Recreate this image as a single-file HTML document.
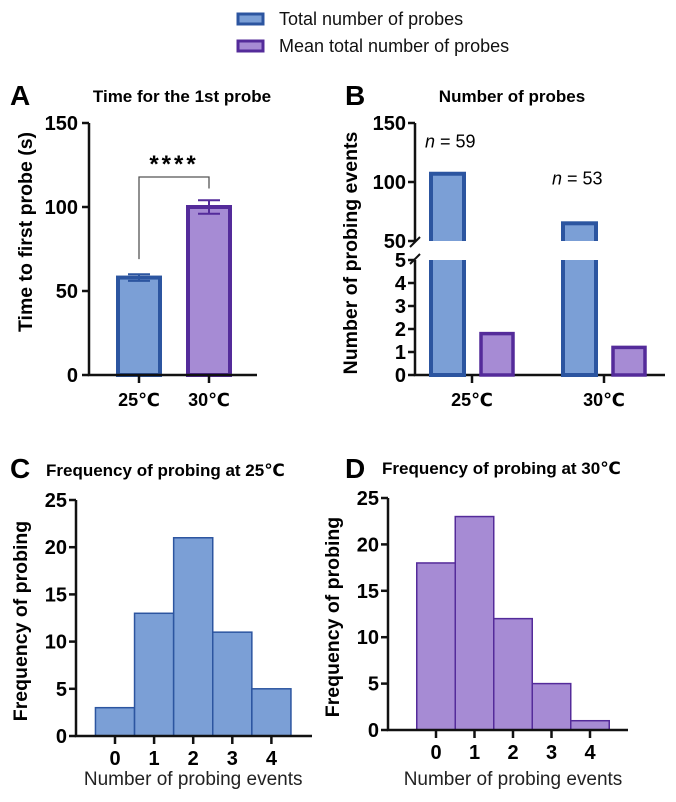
<!DOCTYPE html>
<html><head><meta charset="utf-8"><style>
body{margin:0;background:#fff}
svg{display:block;font-family:"Liberation Sans","DejaVu Sans",sans-serif}
</style></head><body>
<svg id="fig" width="676" height="802" viewBox="0 0 676 802">
<g>
<rect x="238" y="14" width="25" height="10" fill="#7b9fd6" stroke="#2c55a0" stroke-width="3"/>
<text x="279" y="25" font-size="18" fill="#111">Total number of probes</text>
<rect x="238" y="41" width="25" height="10" fill="#a68bd4" stroke="#542b9a" stroke-width="3"/>
<text x="279" y="52" font-size="18" fill="#111">Mean total number of probes</text>
</g>
<text x="10" y="105" font-size="28" font-weight="bold">A</text>
<text x="345" y="105" font-size="28" font-weight="bold">B</text>
<text x="10" y="478" font-size="28" font-weight="bold">C</text>
<text x="345" y="478" font-size="28" font-weight="bold">D</text>
<text x="182" y="102" font-size="17" font-weight="bold" text-anchor="middle">Time for the 1st probe</text>
<text x="512" y="102" font-size="17" font-weight="bold" text-anchor="middle">Number of probes</text>
<text x="46" y="476" font-size="17" font-weight="bold">Frequency of probing at 25℃</text>
<text x="382" y="474" font-size="17" font-weight="bold">Frequency of probing at 30℃</text>
<g id="pa"></g><g id="pb"></g><g id="pc"></g><g id="pd"></g>
</svg>
<script>
// Panel A data
const aCats=["25℃","30℃"];
const aMeans=[58,100];
const aErr=[2,4];
const aTicks=[0,50,100,150];
// Panel B data
const bCats=["25℃","30℃"];
const bTotal=[107,65];
const bMean=[1.8,1.2];
const bN=["59","53"];
const bLowTicks=[0,1,2,3,4,5];
const bHighTicks=[50,100,150];
// Panel C/D data
const histCats=[0,1,2,3,4];
const cFreq=[3,13,21,11,5];
const dFreq=[18,23,12,5,1];
const histTicks=[0,5,10,15,20,25];

const NS="http://www.w3.org/2000/svg";
function mk(parent,tag,attrs,txt){const e=document.createElementNS(NS,tag);for(const k in attrs)e.setAttribute(k,attrs[k]);if(txt!==undefined)e.textContent=txt;parent.appendChild(e);return e;}
const BLUE="#7b9fd6",BLUED="#2c55a0",PUR="#a68bd4",PURD="#542b9a";

// ---- Panel A
(function(){
 const g=document.getElementById('pa');
 const x0=89,y0=375,ppu=252/150;
 const y=v=>y0-v*ppu;
 const cx=[139,209];
 aTicks.forEach(t=>{
  const l=mk(g,'line',{x1:x0-7,x2:x0,y1:y(t),y2:y(t),stroke:'#111','stroke-width':2.5});
  
  const tx=mk(g,'text',{x:x0-11,y:y(t)+7,'font-size':20,'font-weight':'bold','text-anchor':'end'},t);
  
 });
 aMeans.forEach((v,i)=>{
  const r=mk(g,'rect',{x:cx[i]-21,y:y(v),width:42,height:y0-y(v),fill:i?PUR:BLUE,stroke:i?PURD:BLUED,'stroke-width':4});
  
  const eb=mk(g,'path',{d:`M${cx[i]-11},${y(v+aErr[i])}H${cx[i]+11}M${cx[i]},${y(v+aErr[i])}V${y(v-aErr[i])}M${cx[i]-11},${y(v-aErr[i])}H${cx[i]+11}`,stroke:i?PURD:BLUED,'stroke-width':2,fill:'none'});
  
  const tk=mk(g,'line',{x1:cx[i],x2:cx[i],y1:y0,y2:y0+8,stroke:'#111','stroke-width':2.5});
  
  const lb=mk(g,'text',{x:cx[i],y:y0+31,'font-size':18,'font-weight':'bold','text-anchor':'middle'},aCats[i]);
  
 });
 const ax=mk(g,'path',{d:`M${x0},${y(150)}V${y0}H${x0+168}`,stroke:'#111','stroke-width':2.5,fill:'none'});
 
 const br=mk(g,'path',{d:`M${cx[0]},${y(aMeans[0]+11)}V177H${cx[1]}V${y(aMeans[1]+11)}`,stroke:'#555','stroke-width':1.3,fill:'none'});
 
 const st=mk(g,'text',{x:(cx[0]+cx[1])/2,y:172,'font-size':24,'font-weight':'bold','text-anchor':'middle','letter-spacing':'3'},'****');
 
 const yt=mk(g,'text',{transform:`translate(32,232) rotate(-90)`,'font-size':19.5,'font-weight':'bold','text-anchor':'middle'},'Time to first probe (s)');
 
})();

// ---- Panel B
(function(){
 const g=document.getElementById('pb');
 const x0=415,y0=375,lowTop=260,hiBot=241,hiTop=123;
 const y=v=>v<=5?y0-v*(y0-lowTop)/5:hiBot-(v-50)*(hiBot-hiTop)/100;
 bLowTicks.forEach(t=>{
  const l=mk(g,'line',{x1:x0-7,x2:x0,y1:y(t),y2:y(t),stroke:'#111','stroke-width':2.5});
  
  const tx=mk(g,'text',{x:x0-9,y:y(t)+7,'font-size':20,'font-weight':'bold','text-anchor':'end'},t);
  
 });
 bHighTicks.forEach(t=>{
  const l=mk(g,'line',{x1:x0-7,x2:x0,y1:y(t),y2:y(t),stroke:'#111','stroke-width':2.5});
  
  const tx=mk(g,'text',{x:x0-9,y:y(t)+7,'font-size':20,'font-weight':'bold','text-anchor':'end'},t);
  
 });
 const ax=mk(g,'path',{d:`M${x0},${hiTop}V${hiBot}M${x0},${lowTop}V${y0}H${x0+250}`,stroke:'#111','stroke-width':2.5,fill:'none'});
 
 const bk=mk(g,'path',{d:`M${x0-5},${hiBot+6}L${x0+5},${hiBot-4}M${x0-5},${lowTop+4}L${x0+5},${lowTop-6}`,stroke:'#111','stroke-width':2,fill:'none'});
 
 const cx=[472,604];
 bTotal.forEach((v,i)=>{
  const x=cx[i]-41,w=33;
  const r=mk(g,'rect',{x:x,y:y(v),width:w,height:y0-y(v),fill:BLUE,stroke:BLUED,'stroke-width':4});
  
  const gap=mk(g,'rect',{x:x-3,y:hiBot,width:w+6,height:lowTop-hiBot,fill:'#fff'});
  
  const m=bMean[i];
  const r2=mk(g,'rect',{x:cx[i]+9,y:y(m),width:32,height:y0-y(m),fill:PUR,stroke:PURD,'stroke-width':3.5});
  
  const tk=mk(g,'line',{x1:cx[i],x2:cx[i],y1:y0,y2:y0+8,stroke:'#111','stroke-width':2.5});
  
  const lb=mk(g,'text',{x:cx[i],y:y0+31,'font-size':18,'font-weight':'bold','text-anchor':'middle'},bCats[i]);
  
  const nt=mk(g,'text',{x:i?x-11:x-6,y:y(v)-(i?39:26),'font-size':18});
  
  mk(nt,'tspan',{'font-style':'italic'},'n');mk(nt,'tspan',{},' = '+bN[i]);
 });
 const yt=mk(g,'text',{transform:`translate(357,253) rotate(-90)`,'font-size':19.5,'font-weight':'bold','text-anchor':'middle'},'Number of probing events');
 
})();

// ---- Histograms
function hist(id,vals,x0,y0,top,c0,step,axEnd,fill,stroke,tag){
 const g=document.getElementById(id);
 const y=v=>y0-v*(y0-top)/25;
 histTicks.forEach(t=>{
  const l=mk(g,'line',{x1:x0-7,x2:x0,y1:y(t),y2:y(t),stroke:'#111','stroke-width':2.5});
  
  const tx=mk(g,'text',{x:x0-9,y:y(t)+7,'font-size':20,'font-weight':'bold','text-anchor':'end'},t);
  
 });
 vals.forEach((v,i)=>{
  const cx=c0+histCats[i]*step;
  const r=mk(g,'rect',{x:cx-step/2,y:y(v),width:step,height:y0-y(v),fill:fill,stroke:stroke,'stroke-width':1.5});
  
  const tk=mk(g,'line',{x1:cx,x2:cx,y1:y0,y2:y0+8,stroke:'#111','stroke-width':2.5});
  
  const lb=mk(g,'text',{x:cx,y:y0+29,'font-size':20,'font-weight':'bold','text-anchor':'middle'},histCats[i]);
  
 });
 const ax=mk(g,'path',{d:`M${x0},${top}V${y0}H${axEnd}`,stroke:'#111','stroke-width':2.5,fill:'none'});
 
 const xt=mk(g,'text',{x:c0+2*step,y:785,'font-size':19,'text-anchor':'middle',fill:'#222'},'Number of probing events');
 
 const yt=mk(g,'text',{transform:`translate(${x0-49},${(y0+top)/2+3}) rotate(-90)`,'font-size':19.5,'font-weight':'bold','text-anchor':'middle'},'Frequency of probing');
 
}
hist('pc',cFreq,76,736,500,115,39.1,312,BLUE,BLUED,'c');
hist('pd',dFreq,388,730,498,436,38.5,628,PUR,PURD,'d');
</script>
</body></html>
